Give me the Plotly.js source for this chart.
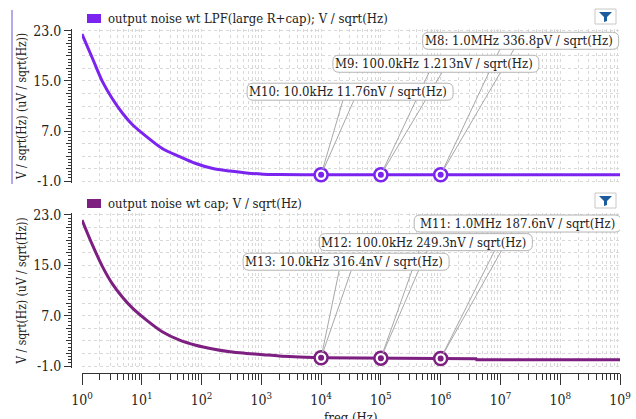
<!DOCTYPE html>
<html><head><meta charset="utf-8">
<script src="https://cdn.plot.ly/plotly-3.0.1.min.js"></script>
<style>html,body{margin:0;padding:0;background:#fff;} #chart{width:636px;height:419px;}</style>
</head><body><div id="chart"></div>
<script>
// ---- data ----
const freqTop = [1, 1.5, 2.2, 3.2, 4.8, 7, 12, 22, 43, 80, 155, 300, 560, 1070, 2000, 1e4, 1e5, 1e6, 1e7, 1e8, 1e9];
const noiseTop = [22.5, 18.6, 14.9, 12.2, 9.8, 8.0, 6.1, 4.2, 2.9, 1.8, 1.0, 0.6, 0.3, 0.1, 0.05, 0.01176, 0.001213, 0.0003368, 0.0001, 0.0001, 0.0001];
const freqBot = [1, 1.5, 2.2, 3.2, 4.8, 7, 12, 22, 43, 80, 155, 300, 560, 1070, 2000, 1e4, 1e5, 1e6, 3.9e6, 4e6, 1e7, 1e8, 1e9];
const noiseBot = [22.2, 18.2, 14.8, 12.1, 9.9, 8.2, 6.3, 4.45, 3.1, 2.3, 1.7, 1.25, 1.0, 0.8, 0.6, 0.3164, 0.2493, 0.1876, 0.17, 0.0, 0.0, 0.0, 0.0];
const markerFreq = [1e4, 1e5, 1e6];
const markerTop = [0.01176, 0.001213, 0.0003368];
const markerBot = [0.3164, 0.2493, 0.1876];
const labelsTop = ['M10: 10.0kHz 11.76nV / sqrt(Hz)', 'M9: 100.0kHz 1.213nV / sqrt(Hz)', 'M8: 1.0MHz 336.8pV / sqrt(Hz)'];
const labelsBot = ['M13: 10.0kHz 316.4nV / sqrt(Hz)', 'M12: 100.0kHz 249.3nV / sqrt(Hz)', 'M11: 1.0MHz 187.6nV / sqrt(Hz)'];
const legendTop = 'output noise wt LPF(large R+cap); V / sqrt(Hz)';
const legendBot = 'output noise wt cap; V / sqrt(Hz)';
const decadeVals = [1, 10, 100, 1e3, 1e4, 1e5, 1e6, 1e7, 1e8, 1e9];
const decadeLabels = ['10<sup>0</sup>','10<sup>1</sup>','10<sup>2</sup>','10<sup>3</sup>','10<sup>4</sup>','10<sup>5</sup>','10<sup>6</sup>','10<sup>7</sup>','10<sup>8</sup>','10<sup>9</sup>'];
const yTickVals = [-1, 7, 15, 23];
const yTickText = ['-1.0', '7.0', '15.0', '23.0'];
const yTitle = 'V / sqrt(Hz) (uV / sqrt(Hz))';
const xTitle = 'freq (Hz)';

// ---- styling ----
const FONT = '"DejaVu Serif Condensed", "Liberation Serif", serif';
const W = 636, H = 419;
const px = x => x / W;
const py = y => 1 - y / H;
const colTop = '#7b24f0';
const colBot = '#7d1f80';
const gridCol = '#d9d9d9';

const minorVals = [];
for (let d = 0; d < 9; d++) for (let k = 2; k <= 9; k++) minorVals.push(k * Math.pow(10, d));

const xDomain = [px(82), px(620)];
const topDom = [py(182.9), py(29.1)];
const botDom = [py(367.9), py(213.1)];
const yRange = [-1.3, 23.3];

function xAxisBase(extra) {
  return Object.assign({
    type: 'log', range: [0, 9], domain: xDomain,
    tickmode: 'array', tickvals: decadeVals, ticktext: decadeLabels,
    showgrid: true, gridcolor: gridCol, griddash: 'dot', gridwidth: 1,
    minor: {tickmode: 'array', tickvals: minorVals, showgrid: true, gridcolor: gridCol, griddash: 'dot', gridwidth: 1},
    zeroline: false, fixedrange: true
  }, extra);
}
function yAxisBase(dom) {
  return {
    domain: dom, range: yRange, anchor: 'free', position: px(71),
    tickmode: 'array', tickvals: yTickVals, ticktext: yTickText,
    ticks: 'outside', ticklen: 7, tickcolor: '#333', tickwidth: 1,
    minor: {tick0: -1, dtick: 2, ticks: 'outside', ticklen: 5, tickcolor: '#333', showgrid: true, gridcolor: gridCol, griddash: 'dot', gridwidth: 1},
    showline: true, linecolor: '#333', linewidth: 1,
    showgrid: true, gridcolor: gridCol, griddash: 'dot', gridwidth: 1,
    zeroline: false, fixedrange: true,
    tickfont: {family: FONT, size: 14, color: '#222'},
    title: {text: yTitle, font: {family: FONT, size: 12, color: '#222'}, standoff: 2}
  };
}
function rulerAxis(dom, over) {
  return {
    domain: dom, range: yRange, anchor: 'free', position: px(71), overlaying: over,
    tick0: -1, dtick: 0.5, ticks: 'outside', ticklen: 3, tickcolor: '#333', tickwidth: 1,
    showticklabels: false, showgrid: false, showline: false, zeroline: false, fixedrange: true
  };
}

const splitIdx = freqBot.indexOf(1e4);
const traces = [
  {x: freqTop, y: noiseTop, xaxis: 'x', yaxis: 'y', mode: 'lines', line: {color: colTop, width: 3, shape: 'spline', smoothing: 0.8}, hoverinfo: 'skip'},
  {x: freqBot.slice(0, splitIdx + 1), y: noiseBot.slice(0, splitIdx + 1), xaxis: 'x2', yaxis: 'y2', mode: 'lines', line: {color: colBot, width: 3, shape: 'spline', smoothing: 0.8}, hoverinfo: 'skip'},
  {x: freqBot.slice(splitIdx), y: noiseBot.slice(splitIdx), xaxis: 'x2', yaxis: 'y2', mode: 'lines', line: {color: colBot, width: 3}, hoverinfo: 'skip'},
  {x: markerFreq, y: markerTop, xaxis: 'x', yaxis: 'y', mode: 'markers', marker: {symbol: 'circle', size: 13, color: '#ffffff', line: {color: colTop, width: 2.5}}, hoverinfo: 'skip'},
  {x: markerFreq, y: markerTop, xaxis: 'x', yaxis: 'y', mode: 'markers', marker: {symbol: 'circle', size: 6, color: colTop}, hoverinfo: 'skip'},
  {x: markerFreq, y: markerBot, xaxis: 'x2', yaxis: 'y2', mode: 'markers', marker: {symbol: 'circle', size: 13, color: '#ffffff', line: {color: colBot, width: 2.5}}, hoverinfo: 'skip'},
  {x: markerFreq, y: markerBot, xaxis: 'x2', yaxis: 'y2', mode: 'markers', marker: {symbol: 'circle', size: 6, color: colBot}, hoverinfo: 'skip'},
  {x: [], y: [], xaxis: 'x', yaxis: 'y3', mode: 'lines', hoverinfo: 'skip'},
  {x: [], y: [], xaxis: 'x2', yaxis: 'y4', mode: 'lines', hoverinfo: 'skip'}
];

// label boxes: offsets (px, screen-down positive) of box centre from marker, wedge foot offsets, box widths
const topBox = [
  {dx: 29, dy: -83, w: 206, f1: [22, -75], f2: [33, -75]},
  {dx: 55, dy: -111, w: 206, f1: [48, -102], f2: [61, -102]},
  {dx: 80, dy: -134, w: 196, f1: [59, -125], f2: [73, -125]}
];
const botBox = [
  {dx: 25, dy: -96, w: 206, f1: [18, -87], f2: [30, -87]},
  {dx: 45, dy: -116, w: 213, f1: [38, -107], f2: [46, -107]},
  {dx: 77, dy: -135, w: 207, f1: [63, -126], f2: [71, -126]}
];
const BOXH = 17, RAD = 6;

const annotations = [];
const wedgeShapes = [];
const boxShapes = [];
function addLabels(xr, yr, vals, labels, boxes) {
  markerFreq.forEach((f, i) => {
    const b = boxes[i];
    const ya = vals[i];
    [b.f1, b.f2].forEach(ft => {
      const len = Math.hypot(ft[0], ft[1]);
      const sx = ft[0] / len * 6, sy = ft[1] / len * 6;
      wedgeShapes.push({type: 'line', xref: xr, yref: yr, xsizemode: 'pixel', ysizemode: 'pixel',
        xanchor: f, yanchor: ya, x0: sx, y0: -sy, x1: ft[0], y1: -ft[1],
        line: {color: '#a8a8a8', width: 1}, layer: 'above'});
    });
    const l = b.dx - b.w / 2, r = b.dx + b.w / 2, t = -(b.dy - BOXH / 2), bt = -(b.dy + BOXH / 2);
    const p = `M ${l + RAD} ${t} L ${r - RAD} ${t} Q ${r} ${t} ${r} ${t - RAD} L ${r} ${bt + RAD} Q ${r} ${bt} ${r - RAD} ${bt} L ${l + RAD} ${bt} Q ${l} ${bt} ${l} ${bt + RAD} L ${l} ${t - RAD} Q ${l} ${t} ${l + RAD} ${t} Z`;
    boxShapes.push({type: 'path', xref: xr, yref: yr, xsizemode: 'pixel', ysizemode: 'pixel', xanchor: f, yanchor: ya,
      path: p, fillcolor: '#ffffff', line: {color: '#b4b4b4', width: 1}, layer: 'above'});
    annotations.push({
      x: Math.log10(f), y: ya, xref: xr, yref: yr, text: labels[i],
      showarrow: false, xshift: r - 5, yshift: -b.dy, xanchor: 'right', yanchor: 'middle',
      borderpad: 0, font: {family: FONT, size: 13, color: '#222'}
    });
  });
}
addLabels('x', 'y', markerTop, labelsTop, topBox);
addLabels('x2', 'y2', markerBot, labelsBot, botBox);

annotations.push({xref: 'paper', yref: 'paper', x: px(106), y: py(18.5), xanchor: 'left', yanchor: 'middle', text: legendTop, showarrow: false, font: {family: FONT, size: 13, color: '#222'}});
annotations.push({xref: 'paper', yref: 'paper', x: px(106), y: py(203.5), xanchor: 'left', yanchor: 'middle', text: legendBot, showarrow: false, font: {family: FONT, size: 13, color: '#222'}});
// x-axis title, partly cut by the bottom edge as in the reference
annotations.push({xref: 'paper', yref: 'paper', x: px(351), y: py(408), xanchor: 'center', yanchor: 'top', text: xTitle, showarrow: false, font: {family: FONT, size: 13, color: '#222'}});

function funnel(y0) {
  const pts = [[599, y0 + 3], [612, y0 + 3], [607, y0 + 8], [607, y0 + 12], [604, y0 + 13], [604, y0 + 8]];
  return 'M ' + pts.map(p => px(p[0]) + ' ' + py(p[1])).join(' L ') + ' Z';
}

const shapes = [
  {type: 'rect', xref: 'paper', yref: 'paper', x0: px(87), x1: px(101), y0: py(14), y1: py(23), fillcolor: colTop, line: {width: 0}},
  {type: 'rect', xref: 'paper', yref: 'paper', x0: px(87), x1: px(101), y0: py(199), y1: py(208), fillcolor: colBot, line: {width: 0}},
  {type: 'rect', xref: 'paper', yref: 'paper', x0: px(595), x1: px(616), y0: py(9), y1: py(24), fillcolor: '#ffffff', line: {color: '#c8c8c8', width: 1}},
  {type: 'rect', xref: 'paper', yref: 'paper', x0: px(595), x1: px(616), y0: py(193), y1: py(208), fillcolor: '#ffffff', line: {color: '#c8c8c8', width: 1}},
  {type: 'path', xref: 'paper', yref: 'paper', path: funnel(9), fillcolor: '#1b5c9e', line: {width: 0}},
  {type: 'path', xref: 'paper', yref: 'paper', path: funnel(193), fillcolor: '#1b5c9e', line: {width: 0}},
  {type: 'line', xref: 'paper', yref: 'paper', x0: px(12), x1: px(12), y0: py(10), y1: py(184), line: {color: '#9a8ee6', width: 1.5}}
].concat(wedgeShapes, boxShapes);

const layout = {
  width: W, height: H,
  margin: {l: 0, r: 0, t: 0, b: 0},
  paper_bgcolor: '#ffffff', plot_bgcolor: '#ffffff',
  showlegend: false,
  font: {family: FONT, size: 13, color: '#222'},
  xaxis: xAxisBase({anchor: 'y', showticklabels: false, ticks: ''}),
  xaxis2: xAxisBase({anchor: 'free', position: py(373),
    showticklabels: true, ticks: 'outside', ticklen: 11, tickcolor: '#333', tickwidth: 1,
    ticklabelstandoff: 3,
    showline: true, linecolor: '#333', linewidth: 1,
    minor: {tickmode: 'array', tickvals: minorVals, ticks: 'outside', ticklen: 6, tickcolor: '#333', showgrid: true, gridcolor: gridCol, griddash: 'dot', gridwidth: 1},
    tickfont: {family: FONT, size: 14, color: '#222'}
  }),
  yaxis: yAxisBase(topDom),
  yaxis2: yAxisBase(botDom),
  yaxis3: rulerAxis(topDom, 'y'),
  yaxis4: rulerAxis(botDom, 'y2'),
  annotations: annotations,
  shapes: shapes
};

Plotly.newPlot('chart', traces, layout, {displayModeBar: false, staticPlot: true});
</script></body></html>
